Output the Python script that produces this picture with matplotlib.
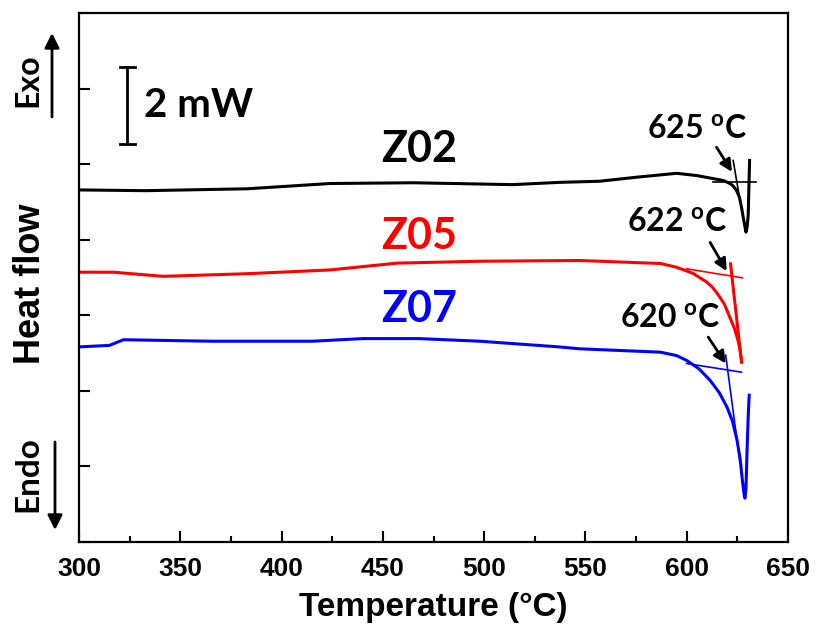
import numpy as np
import matplotlib
matplotlib.use('Agg')
import matplotlib.pyplot as plt

plt.rcParams['mathtext.fontset'] = 'custom'
plt.rcParams['mathtext.bf'] = 'Lato:bold'
plt.rcParams['mathtext.rm'] = 'Lato:bold'

# DSC traces (temperature in C, heat flow in mW, offset)
t_z02 = [300, 333, 383, 424, 465, 514, 537, 557, 574, 595, 605, 613, 618, 621.3, 623, 624.6, 626, 627,
         628.3, 629.2, 629.8, 630.3, 631.0]
h_z02 = [9.32, 9.30, 9.35, 9.49, 9.51, 9.46, 9.52, 9.55, 9.65, 9.76, 9.70, 9.62, 9.57, 9.49, 9.42, 9.30, 9.12, 8.86,
         8.46, 8.20, 8.35, 8.64, 10.10]

t_z05 = [300, 317, 341.5, 383, 424, 457, 498, 547, 587, 595, 603, 609.8, 612.5, 615, 618.5, 621.3, 623.5,
         625.3, 626.4, 627.1]
h_z05 = [7.14, 7.14, 7.03, 7.10, 7.20, 7.38, 7.43, 7.45, 7.37, 7.27, 7.11, 6.88, 6.75, 6.58, 6.30, 5.94, 5.65,
         5.33, 5.05, 4.76]

t_z07 = [300, 315, 322, 366, 415, 440, 468, 498, 537, 547, 587, 595, 600, 606, 611.4, 616, 619.8, 622.5,
         624.8, 626.3, 627.6, 628.3, 628.7, 629.2, 629.8, 630.3, 630.8]
h_z07 = [5.16, 5.20, 5.35, 5.31, 5.31, 5.38, 5.38, 5.31, 5.16, 5.11, 5.02, 4.93, 4.80, 4.58, 4.28, 3.95, 3.57, 3.20,
         2.69, 2.20, 1.55, 1.25, 1.15, 1.40, 2.50, 3.30, 3.88]

# onset construction lines: (T0, T1, h0, h1)
base_lines = {'k': (613.1, 634.2, 9.54, 9.54),
              'r': (599.9, 627.5, 7.23, 6.99),
              'b': (599.9, 627.0, 4.72, 4.49)}
steep_lines = {'k': (622.9, 626.4, 10.10, 9.00),
               'r': (621.6, 627.0, 7.36, 4.76),
               'b': (619.2, 626.3, 4.94, 2.08)}

onset_labels = ['625 $^\\mathbf{o}$C', '622 $^\\mathbf{o}$C', '620 $^\\mathbf{o}$C']
onset_pos = [(605.3, 10.93), (595.0, 8.46), (591.7, 5.91)]
arrows = [((614.7, 10.45), (622.3, 9.80)),
          ((611.5, 7.93), (619.7, 7.17)),
          ((610.6, 5.42), (619.2, 4.72))]

names = ['Z02', 'Z05', 'Z07']
name_y = [10.40, 8.11, 6.17]
colors = ['k', 'r', 'b']

fig = plt.figure(figsize=(8.16, 6.25), dpi=100)
ax = fig.add_axes([0.0968, 0.1334, 0.869, 0.8453])

ax.plot(t_z02, h_z02, color='k', lw=2.2)
ax.plot(t_z05, h_z05, color='r', lw=2.2)
ax.plot(t_z07, h_z07, color='b', lw=2.2)

for c in colors:
    x0, x1, y0, y1 = base_lines[c]
    ax.plot([x0, x1], [y0, y1], color=c, lw=1.2)
    x0, x1, y0, y1 = steep_lines[c]
    ax.plot([x0, x1], [y0, y1], color=c, lw=2.2 if c == 'r' else 1.2)

for lab, (x, y) in zip(onset_labels, onset_pos):
    ax.text(x, y, lab, ha='center', va='center', fontsize=23,
            family='Lato', fontweight='bold')

for (p0, p1) in arrows:
    ax.annotate('', xy=p1, xytext=p0,
                arrowprops=dict(arrowstyle='-|>', color='k', lw=2,
                                mutation_scale=18, shrinkA=0, shrinkB=0))

for n, y, c in zip(names, name_y, colors):
    ax.text(468, y, n, color=c, ha='center', va='center', fontsize=31,
            family='Lato', fontweight='bold')

# scale bar
ax.plot([323.8, 323.8], [10.55, 12.59], color='k', lw=2)
ax.plot([320.0, 327.6], [12.59, 12.59], color='k', lw=2)
ax.plot([320.0, 327.6], [10.55, 10.55], color='k', lw=2)
ax.text(332.3, 11.55, '2 mW', ha='left', va='center', fontsize=29,
        family='Lato', fontweight='bold')

ax.set_xlim(300, 650)
ax.set_ylim(0, 14)
ax.set_xticks(np.arange(300, 651, 50))
ax.set_xticks(np.arange(325, 650, 50), minor=True)
ax.set_yticks(np.arange(0, 15, 2))
ax.set_yticklabels([])
ax.tick_params(direction='in', width=1.5, length=8, labelsize=19, pad=11)
ax.tick_params(which='minor', direction='in', width=1.5, length=4)
ax.tick_params(axis='y', left=True, right=False)
ax.tick_params(axis='x', top=False)
for lbl in ax.get_xticklabels():
    lbl.set_fontweight('bold')
    lbl.set_family('Liberation Sans')
for s in ax.spines.values():
    s.set_linewidth(1.6)

ax.set_xlabel('Temperature (°C)', fontsize=24, fontweight='bold',
              family='Liberation Sans', labelpad=8)

# left side annotations, in figure pixels
fig.text(30, 341, 'Heat flow', transform=None, rotation=90, ha='center', va='center',
         fontsize=26, fontweight='bold', family='Liberation Sans')
fig.text(28, 545, 'Exo', transform=None, rotation=90, ha='center', va='center',
         fontsize=23, fontweight='bold', family='Lato')
fig.text(28, 151, 'Endo', transform=None, rotation=90, ha='center', va='center',
         fontsize=24, fontweight='bold', family='Lato')
ax.annotate('', xy=(52, 592), xytext=(52, 508), xycoords='figure pixels',
            textcoords='figure pixels',
            arrowprops=dict(arrowstyle='-|>', color='k', lw=2, mutation_scale=22,
                            shrinkA=0, shrinkB=0))
ax.annotate('', xy=(55, 95), xytext=(55, 183), xycoords='figure pixels',
            textcoords='figure pixels',
            arrowprops=dict(arrowstyle='-|>', color='k', lw=2, mutation_scale=22,
                            shrinkA=0, shrinkB=0))

fig.savefig('out.png', dpi=100)
